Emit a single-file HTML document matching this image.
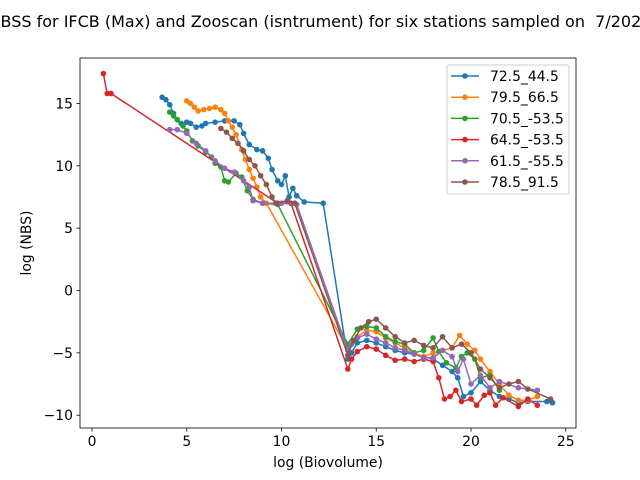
<!DOCTYPE html>
<html><head><meta charset="utf-8"><style>
body{margin:0;background:#fff}
svg{display:block;font-family:"DejaVu Sans","Liberation Sans",sans-serif}
</style></head><body>
<svg id="chart" width="640" height="480" viewBox="0 0 640 480">
<rect width="640" height="480" fill="#fff"/>
<text x="320" y="27" font-size="16" text-anchor="middle" xml:space="preserve">NBSS for IFCB (Max) and Zooscan (isntrument) for six stations sampled on  7/2022</text>
<g id="plot"></g>
<rect x="80" y="58" width="496" height="370" fill="none" stroke="#000" stroke-width="0.8"/>
<g id="axes" font-size="13.9"></g>
<text x="328" y="467" font-size="13.9" text-anchor="middle">log (Biovolume)</text>
<text x="0" y="0" font-size="13.9" text-anchor="middle" transform="translate(31,243) rotate(-90)">log (NBS)</text>
<g id="legend"></g>
</svg>
<script>
const seriesNames=["72.5_44.5","79.5_66.5","70.5_-53.5","64.5_-53.5","61.5_-55.5","78.5_91.5"];
const colors=["#1f77b4","#ff7f0e","#2ca02c","#d62728","#9467bd","#8c564b"];
const xTicks=[0,5,10,15,20,25];
const yTicks=[15,10,5,0,-5,-10];
const s1=[[3.7,15.5],[3.9,15.3],[4.1,14.9],[4.3,14.2],[4.5,13.7],[4.7,13.4],[5,13.5],[5.2,13.4],[5.5,13.1],[5.8,13.2],[6,13.4],[6.5,13.5],[7,13.6],[7.5,13.6],[7.8,13.3],[8,12.6],[8.3,11.7],[8.7,11.3],[9,11.2],[9.3,10.6],[9.5,9.7],[9.8,8.8],[10,8.5],[10.2,9.2],[10.4,7.5],[10.6,8.2],[10.8,7.6],[11.2,7.1],[12.2,7.0],[13.5,-5.5],[13.7,-5],[14,-4.2],[14.5,-4.0],[15,-4.2],[15.5,-4.5],[16,-4.8],[16.5,-5],[17,-5.1],[17.5,-5.3],[18,-5.5],[18.5,-6],[19,-6.5],[19.3,-7.0],[19.6,-8.5],[20,-8.2],[20.5,-7.3],[21,-8.0],[21.5,-8.5],[22,-8.7],[22.5,-9.0],[23,-8.9],[24,-8.9],[24.3,-9.0]];
const s2=[[5,15.2],[5.2,15.0],[5.4,14.7],[5.6,14.4],[5.9,14.5],[6.2,14.6],[6.5,14.7],[6.8,14.5],[7.0,14.2],[7.2,13.6],[7.4,13.1],[7.6,12.5],[7.9,11.3],[8.1,10.5],[8.3,9.7],[8.5,9.0],[8.7,8.3],[8.9,7.5],[9.2,7.0],[13.5,-4.7],[14,-3.7],[14.5,-3.2],[15,-3.3],[15.5,-3.8],[16,-4.2],[16.5,-4.6],[17,-5.0],[17.5,-5.3],[18,-5.0],[18.5,-4.8],[19,-4.6],[19.4,-3.6],[19.8,-4.3],[20.2,-4.8],[20.5,-5.5],[21,-6.5],[21.5,-7.5],[22,-8.4],[22.5,-8.8],[23,-8.8],[23.5,-8.5]];
const s3=[[4.1,14.3],[4.3,14.0],[4.5,13.7],[4.8,13.2],[5.0,12.8],[5.3,12.0],[5.6,11.6],[6,11.1],[6.3,10.7],[6.5,10.2],[6.8,9.9],[7,8.8],[7.2,8.7],[7.6,9.4],[7.9,9.1],[8.2,8.0],[8.5,7.3],[9,7.0],[9.8,6.9],[13.5,-4.3],[14,-3.1],[14.5,-2.9],[15,-3.0],[15.5,-3.7],[16,-4.1],[16.5,-4.3],[17,-5.0],[17.5,-4.8],[18,-3.8],[18.3,-4.9],[18.7,-5.8],[19.2,-6.2],[19.5,-5.3],[19.8,-5.0],[20.2,-5.5],[20.5,-7.0],[21,-6.8],[21.5,-8.0]];
const s4=[[0.6,17.4],[0.8,15.8],[1.0,15.8],[9.8,7.0],[10.5,7.0],[13.5,-6.3],[13.7,-5.5],[14,-4.9],[14.5,-4.5],[15,-4.7],[15.5,-5.2],[16,-5.6],[16.5,-5.5],[17,-5.7],[17.5,-5.5],[18,-5.7],[18.3,-7.0],[18.6,-8.7],[18.9,-8.5],[19.2,-8.0],[19.5,-8.9],[20,-8.7],[20.3,-9.2],[20.7,-8.4],[21,-8.2],[21.3,-9.2],[21.7,-8.6],[22.5,-9.3],[23,-8.7],[23.5,-9.2]];
const s5=[[4.1,12.9],[4.5,12.9],[5,12.6],[5.5,11.8],[6,11.2],[6.5,10.4],[7,9.8],[7.5,9.5],[8,8.8],[8.3,8.3],[8.5,7.2],[9,7.0],[10,7.0],[10.8,6.9],[13.5,-4.8],[13.7,-4.3],[14,-3.8],[14.5,-3.5],[15,-3.9],[15.5,-4.2],[16,-4.6],[16.5,-4.8],[17,-5.1],[17.5,-5.4],[18,-5.4],[18.5,-4.8],[19,-5.3],[19.3,-6.5],[19.6,-5.5],[20,-7.5],[20.5,-6.8],[21,-7.8],[21.5,-7.3],[22.5,-7.8],[23.5,-8.0]];
const s6=[[6.8,13.0],[7.1,12.7],[7.4,12.2],[7.7,11.8],[8,11.2],[8.3,10.5],[8.6,10.0],[8.9,9.2],[9.2,8.5],[9.5,7.5],[9.7,7.0],[10.3,7.2],[10.7,7.0],[13.5,-5.2],[13.8,-4],[14.2,-3.0],[14.6,-2.5],[15,-2.3],[15.5,-3.0],[16,-3.7],[16.5,-4.2],[17,-4.0],[17.5,-4.4],[18,-4.6],[18.5,-3.7],[19,-4.6],[19.5,-4.3],[20,-5.0],[20.5,-6.3],[21,-7.0],[21.5,-7.8],[22,-7.5],[22.5,-7.3],[23,-7.9],[24.2,-8.7]];
const allSeries=[s1,s2,s3,s4,s5,s6];
const NS="http://www.w3.org/2000/svg";
const xs=v=>92+v*18.95;
const ys=v=>290.5-v*12.47;
function mk(tag,attrs,parent){const e=document.createElementNS(NS,tag);for(const k in attrs)e.setAttribute(k,attrs[k]);parent.appendChild(e);return e;}
const plot=document.getElementById('plot');
allSeries.forEach((s,i)=>{
  const g=mk('g',{},plot);
  
  
  const pl=mk('polyline',{points:s.map(p=>xs(p[0])+','+ys(p[1])).join(' '),fill:'none',stroke:colors[i],'stroke-width':1.5},g);
  
  
  s.forEach(p=>{
    const c=mk('circle',{cx:xs(p[0]),cy:ys(p[1]),r:2.8,fill:colors[i]},g);
    
    
  });
});
const axes=document.getElementById('axes');
xTicks.forEach(t=>{
  const l=mk('line',{x1:xs(t),x2:xs(t),y1:428,y2:431.5,stroke:'#000','stroke-width':0.8},axes);
  
  
  const tx=mk('text',{x:xs(t),y:446,'text-anchor':'middle'},axes);tx.textContent=t;
  
  
});
yTicks.forEach(t=>{
  const l=mk('line',{x1:76.5,x2:80,y1:ys(t),y2:ys(t),stroke:'#000','stroke-width':0.8},axes);
  
  
  const tx=mk('text',{x:73,y:ys(t)+5,'text-anchor':'end'},axes);tx.textContent=t<0?'\u2212'+(-t):t;
  
  
});
const lg=document.getElementById('legend');


mk('rect',{x:447,y:65,width:122,height:129,rx:2,fill:'#fff',stroke:'#ccc','stroke-width':1},lg);
seriesNames.forEach((n,i)=>{
  const y=76+i*21.2;
  const g=mk('g',{},lg);
  
  
  mk('line',{x1:451,x2:479,y1:y,y2:y,stroke:colors[i],'stroke-width':1.5},g);
  mk('circle',{cx:465,cy:y,r:2.8,fill:colors[i]},g);
  const t=mk('text',{x:490,y:y+5,'font-size':'13.9'},g);t.textContent=n;
});
</script>
</body></html>
